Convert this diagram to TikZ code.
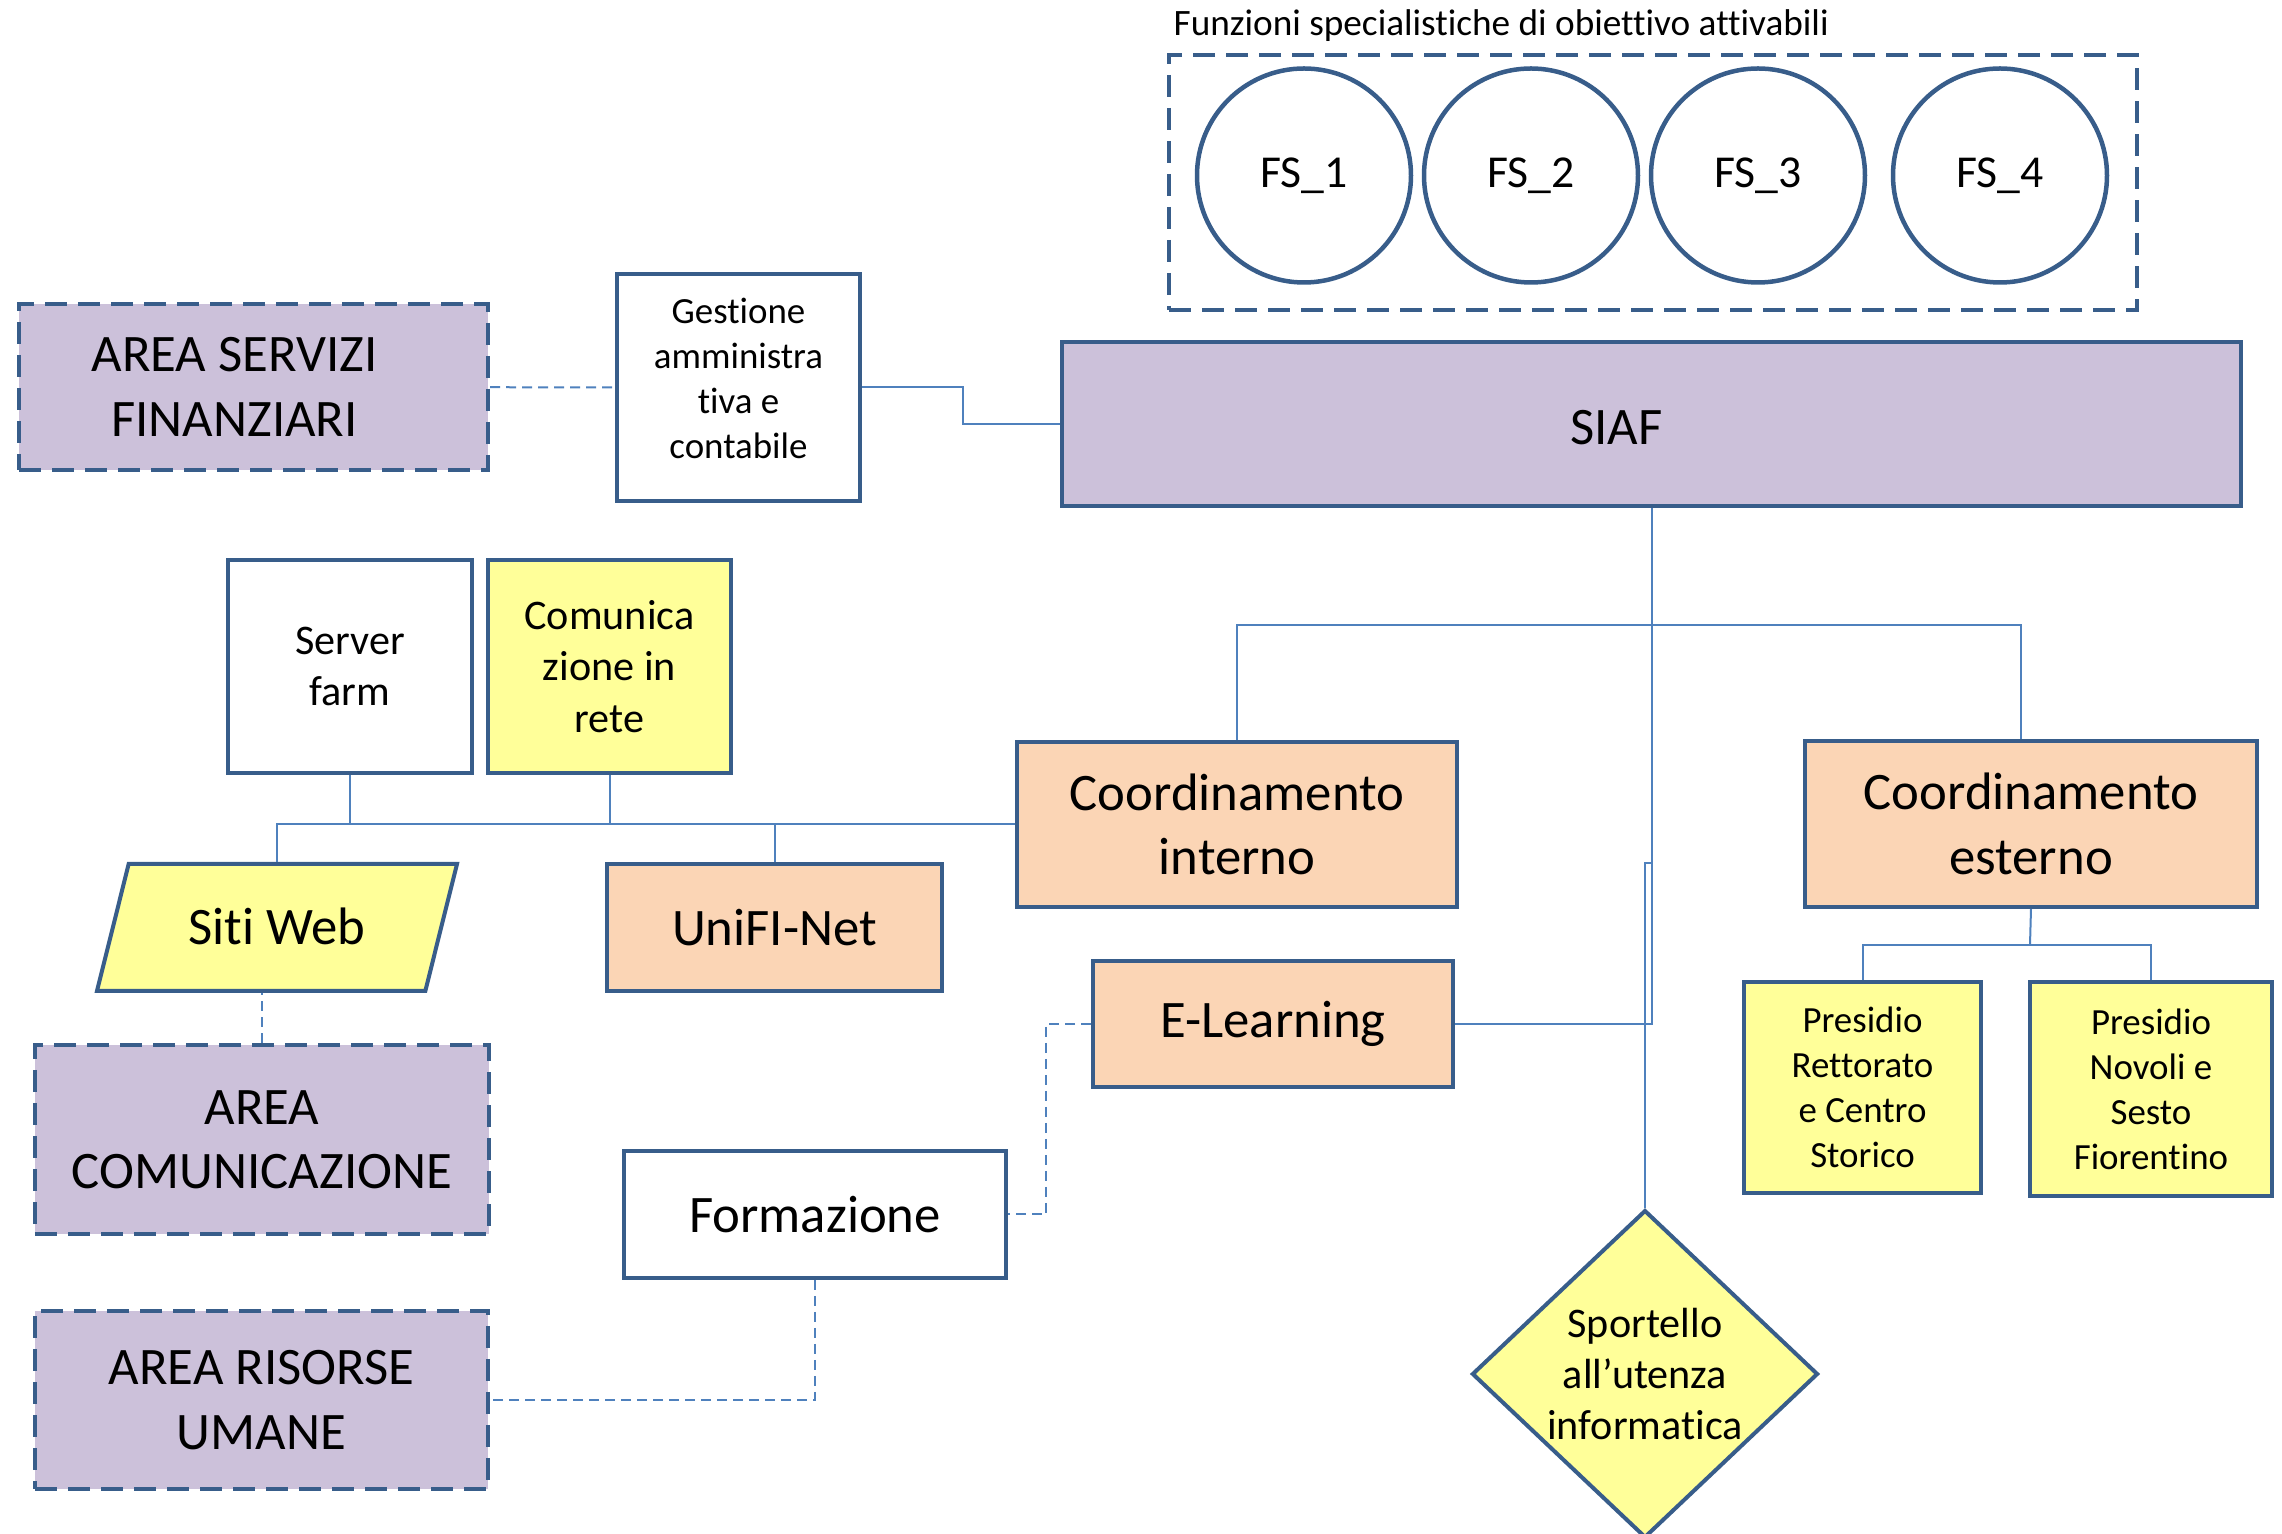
\documentclass[tikz,border=0pt]{standalone}
\usepackage{fontspec}
\setmainfont{Carlito}[Ligatures=NoCommon]
\usetikzlibrary{positioning,calc,shapes.geometric}
\definecolor{bordo}{HTML}{385D8A}
\definecolor{linea}{HTML}{4F81BD}
\definecolor{lilla}{HTML}{CCC1DA}
\definecolor{pesca}{HTML}{FBD5B5}
\definecolor{giallo}{HTML}{FFFF99}

\begin{document}
\begin{tikzpicture}[
    box/.style={draw=bordo, line width=0.4mm, align=center, inner sep=0pt},
    area/.style={box, fill=lilla, dash pattern=on 2.2mm off 1.1mm, font=\fontsize{15}{18.3}\selectfont},
    big/.style={box, font=\fontsize{15}{18.3}\selectfont},
    mid/.style={box, font=\fontsize{12}{14.6}\selectfont},
    small/.style={box, font=\fontsize{10.5}{12.8}\selectfont},
    fs/.style={draw=bordo, line width=0.45mm, circle, minimum size=2.14cm, font=\fontsize{13}{15.8}\selectfont},
    conn/.style={draw=linea, line width=0.2mm},
    dashconn/.style={conn, dash pattern=on 1mm off 0.6mm}
  ]
  \useasboundingbox (0,0) rectangle (22.82,-15.34);

  % funzioni specialistiche
  \node[anchor=west, inner sep=0pt, font=\fontsize{10.6}{13}\selectfont] (titolo) at (11.73,-0.26) {Funzioni specialistiche di obiettivo attivabili};
  \node[draw=bordo, line width=0.4mm, dash pattern=on 2.2mm off 1.1mm, minimum width=9.68cm, minimum height=2.55cm] (fsbox) at (16.53,-1.825) {};
  \foreach \i/\x in {1/13.04,2/15.31,3/17.58,4/20.0}
    \node[fs] (fs\i) at (\x,-1.755) {FS\_\i};

  % vertice
  \node[big, fill=lilla, minimum width=11.79cm, minimum height=1.64cm,
        label={[font=\fontsize{15}{18.3}\selectfont, xshift=-0.35cm, yshift=-0.04cm]center:SIAF}] (siaf) at (16.515,-4.24) {};
  \node[small, minimum width=2.43cm, minimum height=2.27cm,
        label={[font=\fontsize{10.5}{12.8}\selectfont, align=center, yshift=0.09cm]center:Gestione\\amministra\\tiva e\\contabile}] (gest) at (7.385,-3.875) {};
  \node[area, minimum width=4.69cm, minimum height=1.66cm,
        label={[font=\fontsize{15}{18.3}\selectfont, align=center, xshift=-0.19cm]center:AREA SERVIZI\\FINANZIARI}] (asf) at (2.535,-3.87) {};

  % coordinamenti
  \node[big, fill=pesca, minimum width=4.40cm, minimum height=1.65cm] (cint) at (12.37,-8.245) {Coordinamento\\interno};
  \node[big, fill=pesca, minimum width=4.52cm, minimum height=1.66cm] (cest) at (20.31,-8.24) {Coordinamento\\esterno};

  % lato sinistro
  \node[mid, minimum width=2.44cm, minimum height=2.13cm] (server) at (3.50,-6.665) {Server\\farm};
  \node[mid, fill=giallo, minimum width=2.43cm, minimum height=2.13cm] (comm) at (6.095,-6.665) {Comunica\\zione in\\rete};
  \node[big, fill=giallo, trapezium, trapezium left angle=76, trapezium right angle=104, trapezium stretches body=true,
        text height=0.805cm, text depth=0.465cm, minimum width=3.6cm] (siti) at (2.77,-9.275) {Siti Web};
  \node[big, fill=pesca, minimum width=3.35cm, minimum height=1.27cm] (unifi) at (7.745,-9.275) {UniFI-Net};
  \node[area, minimum width=4.54cm, minimum height=1.89cm] (acom) at (2.62,-11.395) {AREA\\COMUNICAZIONE};
  \node[big, fill=pesca, minimum width=3.60cm, minimum height=1.26cm] (elearn) at (12.73,-10.24) {E-Learning};
  \node[big, fill=white, minimum width=3.82cm, minimum height=1.27cm] (form) at (8.15,-12.145) {Formazione};
  \node[area, minimum width=4.53cm, minimum height=1.78cm] (aru) at (2.615,-14.0) {AREA RISORSE\\UMANE};

  % lato destro
  \node[small, fill=giallo, minimum width=2.37cm, minimum height=2.11cm] (pret) at (18.625,-10.875) {Presidio\\Rettorato\\e Centro\\Storico};
  \node[small, fill=giallo, minimum width=2.42cm, minimum height=2.14cm] (pnov) at (21.51,-10.89) {Presidio\\Novoli e\\Sesto\\Fiorentino};
  \node[mid, fill=giallo, diamond, minimum width=3.46cm, minimum height=3.14cm] (sport) at (16.45,-13.74) {Sportello\\all’utenza\\informatica};

  % collegamenti
  \coordinate (tbus) at (16.515,-6.25);
  \coordinate (salto) at (16.515,-8.63);
  \coordinate (pbus) at (20.30,-9.45);
  \draw[dashconn] (asf) -- (gest);
  \draw[conn] (gest.east) -- ++(1.01,0) |- (siaf.west);
  \draw[conn] (siaf.south) |- (elearn.east);
  \draw[conn] (cint.north) |- (tbus) -| ([xshift=-1mm]cest.north);
  \draw[conn] (salto) -| (sport.north);
  \draw[conn] (cint.west) -| (siti.north);
  \draw[conn] (server.south) -- (server.south |- cint.west);
  \draw[conn] (comm.south) -- (comm.south |- cint.west);
  \draw[conn] (unifi.north) -- (unifi.north |- cint.west);
  \draw[dashconn] (acom.north) -- (acom.north |- siti.south);
  \draw[dashconn] (elearn.west) -- ++(-0.45,0) |- (form.east);
  \draw[dashconn] (form.south) |- (aru.east);
  \draw[conn] (cest.south) -- (pbus);
  \draw[conn] (pret.north) |- (pbus) -| (pnov.north);
\end{tikzpicture}
\end{document}
